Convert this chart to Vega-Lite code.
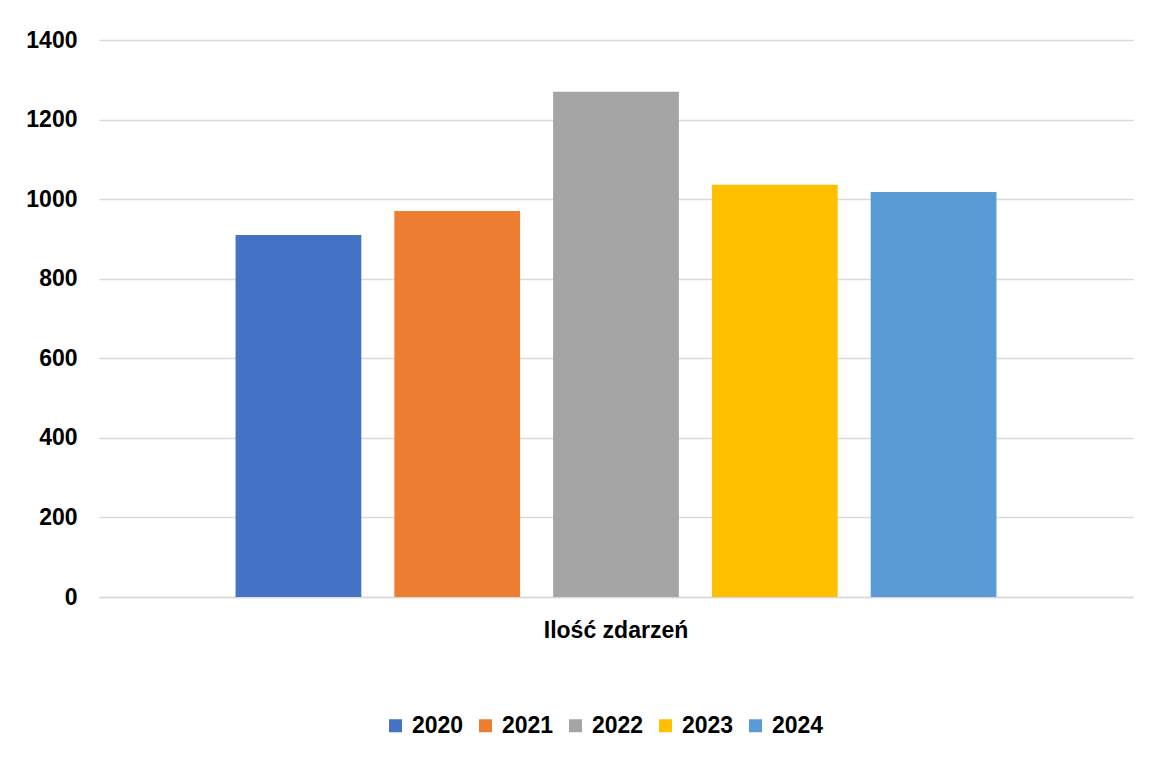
{
  "$schema": "https://vega.github.io/schema/vega-lite/v6.json",
  "width": 1034,
  "height": 557,
  "autosize": {"type": "none"},
  "padding": {"left": 99, "top": 40, "right": 16, "bottom": 186},
  "background": "white",
  "config": {
    "view": {"stroke": null},
    "font": "Liberation Sans",
    "axis": {"labelFont": "Liberation Sans", "labelFontWeight": "bold", "labelColor": "#000000", "labelFontSize": 23}
  },
  "data": {
    "values": [
      {"category": "Ilość zdarzeń", "year": "2020", "value": 910},
      {"category": "Ilość zdarzeń", "year": "2021", "value": 970},
      {"category": "Ilość zdarzeń", "year": "2022", "value": 1270},
      {"category": "Ilość zdarzeń", "year": "2023", "value": 1036},
      {"category": "Ilość zdarzeń", "year": "2024", "value": 1018}
    ]
  },
  "mark": {"type": "bar"},
  "encoding": {
    "x": {
      "field": "category",
      "type": "nominal",
      "scale": {"paddingInner": 0, "paddingOuter": 0},
      "axis": {"title": null, "labelAngle": 0, "ticks": false, "tickSize": 0, "domain": true, "domainColor": "#d9d9d9", "domainWidth": 1.5, "labelPadding": 22, "labelFontSize": 23}
    },
    "xOffset": {
      "field": "year",
      "type": "nominal",
      "scale": {"paddingInner": 0.208, "paddingOuter": 0.86}
    },
    "y": {
      "field": "value",
      "type": "quantitative",
      "scale": {"domain": [0, 1400], "nice": false},
      "axis": {"title": null, "values": [0, 200, 400, 600, 800, 1000, 1200, 1400], "format": "d", "ticks": false, "tickSize": 0, "domain": false, "grid": true, "gridColor": "#d9d9d9", "gridWidth": 1.5, "labelPadding": 22, "labelFontSize": 23}
    },
    "color": {
      "field": "year",
      "type": "nominal",
      "scale": {"domain": ["2020", "2021", "2022", "2023", "2024"], "range": ["#4472C4", "#ED7D31", "#A5A5A5", "#FFC000", "#5B9BD5"]},
      "legend": {
        "title": null,
        "orient": "none",
        "direction": "horizontal",
        "legendX": 285,
        "legendY": 674,
        "symbolType": "square",
        "symbolSize": 169,
        "symbolStrokeWidth": 0,
        "symbolOpacity": 1,
        "labelFont": "Liberation Sans",
        "labelFontWeight": "bold",
        "labelFontSize": 23,
        "labelColor": "#000000",
        "labelOffset": 5,
        "columnPadding": 10
      }
    }
  }
}
